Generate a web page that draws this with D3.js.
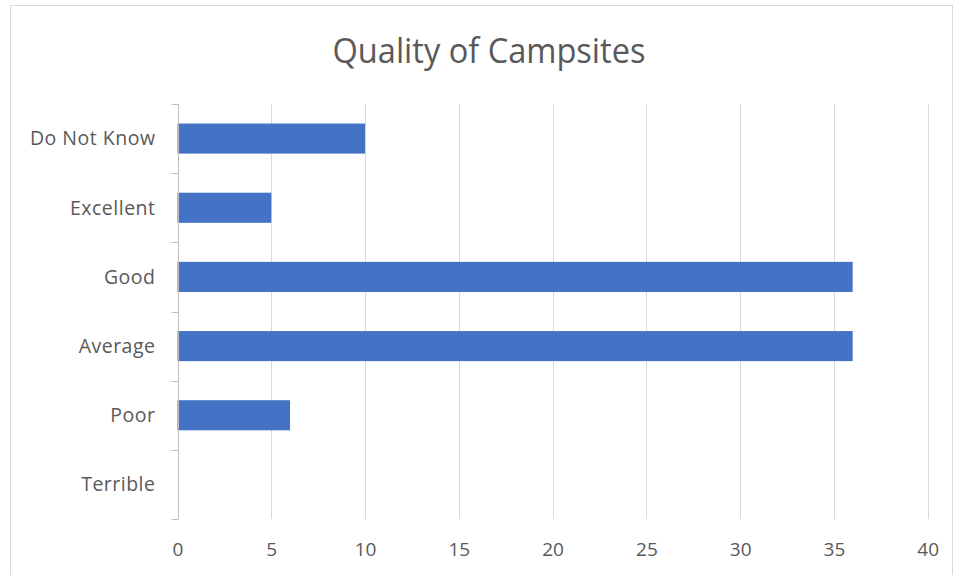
<!DOCTYPE html>
<html>
<head>
<meta charset="utf-8">
<script src="https://cdn.jsdelivr.net/npm/d3@7"></script>
<style>
  html, body { margin: 0; padding: 0; background: #fff; }
  svg { display: block; }
  text { font-family: "Open Sans", "Noto Sans", sans-serif; fill: #595959; }
</style>
</head>
<body>
<svg id="chart" width="956" height="575"></svg>
<script>
// Survey answers, listed top to bottom
const categories = ["Do Not Know", "Excellent", "Good", "Average", "Poor", "Terrible"];
const counts = [10, 5, 36, 36, 6, 0];
const xTicks = [0, 5, 10, 15, 20, 25, 30, 35, 40];
const title = "Quality of Campsites";

const svg = d3.select("#chart");
const W = 956, H = 575;
const plot = { left: 177.5, right: 927.7, top: 104, bottom: 519 };

// chart frame
svg.append("rect")
  .attr("x", 10.5).attr("y", 5.5)
  .attr("width", 942).attr("height", H + 10)
  .attr("fill", "#fff").attr("stroke", "#d9d9d9").attr("stroke-width", 1);

// title
svg.append("text")
  .attr("x", 489).attr("y", 63)
  .attr("text-anchor", "middle")
  .attr("font-size", 34)
  .attr("textLength", 313).attr("lengthAdjust", "spacingAndGlyphs")
  .text(title);

const x = d3.scaleLinear().domain([0, 40]).range([plot.left, plot.right]);
const y = d3.scaleBand().domain(categories)
  .range([plot.top, plot.bottom])
  .paddingInner(0.565).paddingOuter(0.2825);

// vertical gridlines
svg.append("g")
  .selectAll("line")
  .data(xTicks.filter(t => t > 0))
  .join("line")
  .attr("x1", d => Math.round(x(d)) + 0.5).attr("x2", d => Math.round(x(d)) + 0.5)
  .attr("y1", plot.top).attr("y2", plot.bottom)
  .attr("stroke", "#d9d9d9").attr("stroke-width", 1);

// bottom value axis (labels only)
const xAxis = d3.axisBottom(x).tickValues(xTicks).tickSize(0).tickPadding(0);
const gx = svg.append("g")
  .attr("transform", `translate(0,${plot.bottom + 37})`)
  .call(xAxis);
gx.select(".domain").remove();
gx.selectAll("text")
  .attr("font-size", 19)
  .attr("font-family", "\"Open Sans\", sans-serif")
  .attr("fill", "#595959")
  .attr("dy", "0");

// bars
svg.append("g")
  .selectAll("rect")
  .data(categories.map((c, i) => ({ c, v: counts[i] })))
  .join("rect")
  .attr("x", x(0))
  .attr("y", d => y(d.c))
  .attr("width", d => x(d.v) - x(0))
  .attr("height", y.bandwidth())
  .attr("fill", "#4472c4");

// category axis on the left, ticks at band boundaries
const gy = svg.append("g")
  .attr("transform", `translate(${Math.round(plot.left) + 0.5},0)`);
gy.append("line")
  .attr("y1", plot.top).attr("y2", plot.bottom)
  .attr("stroke", "#bfbfbf");
const bounds = categories.map(c => y(c) - y.step() * y.paddingInner() / 2);
bounds.push(plot.bottom);
gy.selectAll("line.tick")
  .data(bounds)
  .join("line")
  .attr("class", "tick")
  .attr("x1", -7).attr("x2", 0)
  .attr("y1", d => Math.round(d) + 0.5).attr("y2", d => Math.round(d) + 0.5)
  .attr("stroke", "#bfbfbf");
gy.selectAll("text")
  .data(categories)
  .join("text")
  .attr("x", -23)
  .attr("y", d => y(d) + y.bandwidth() / 2)
  .attr("dy", "0.35em")
  .attr("text-anchor", "end")
  .attr("font-size", 19.5)
  .attr("letter-spacing", 0.5)
  .text(d => d);
</script>
</body>
</html>
